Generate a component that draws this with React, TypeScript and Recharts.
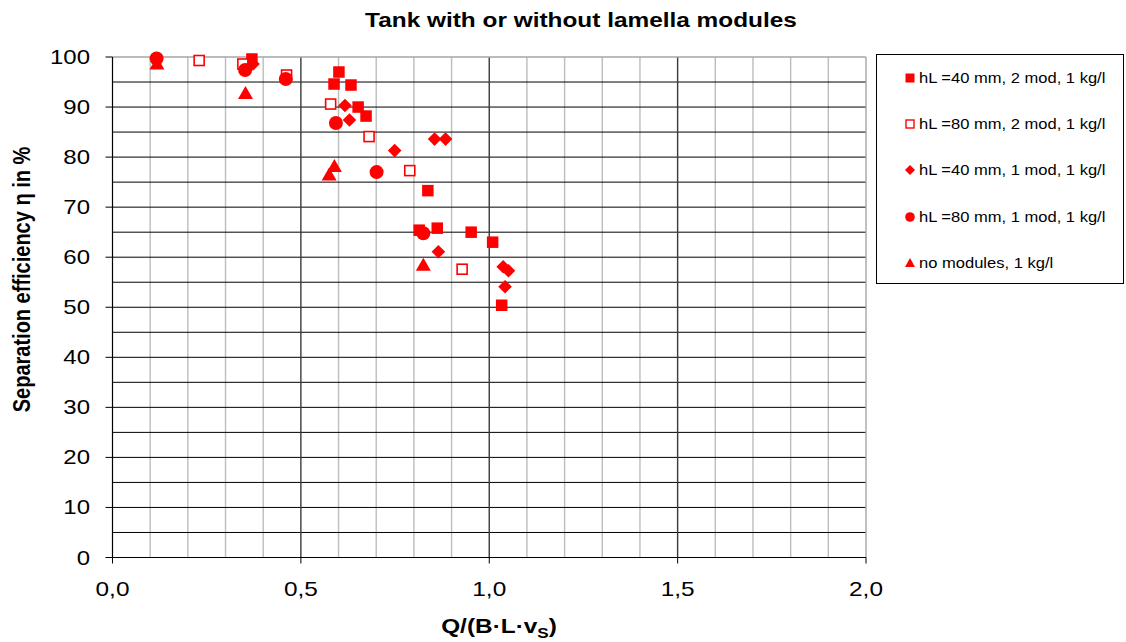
import { ReferenceLine, Scatter, ScatterChart, XAxis, YAxis } from 'recharts';

const RED = '#ff0000';
const FONT = '"Liberation Sans", Arial, sans-serif';

// hL = 40 mm, 2 modules
const sq40X = [0.370, 0.601, 0.588, 0.633, 0.652, 0.673, 0.837, 0.814, 0.862, 0.952, 1.009, 1.033];
const sq40Y = [99.6, 97.0, 94.6, 94.4, 90.0, 88.2, 73.3, 65.4, 65.8, 65.0, 63.0, 50.4];
// hL = 80 mm, 2 modules
const sq80X = [0.230, 0.346, 0.462, 0.579, 0.681, 0.789, 0.928];
const sq80Y = [99.3, 98.6, 96.4, 90.6, 84.1, 77.3, 57.6];
// hL = 40 mm, 1 module
const di40X = [0.373, 0.617, 0.629, 0.749, 0.855, 0.884, 0.865, 1.037, 1.051, 1.042];
const di40Y = [98.6, 90.3, 87.4, 81.3, 83.6, 83.6, 61.1, 58.1, 57.3, 54.1];
// hL = 80 mm, 1 module
const ci80X = [0.117, 0.352, 0.460, 0.593, 0.701, 0.825];
const ci80Y = [99.7, 97.4, 95.6, 86.8, 77.0, 64.8];
// no modules
const triX = [0.118, 0.353, 0.575, 0.589, 0.825];
const triY = [98.6, 92.7, 76.4, 78.1, 58.4];

const xTicks = [0, 0.5, 1, 1.5, 2];
const yTicks = [0, 10, 20, 30, 40, 50, 60, 70, 80, 90, 100];
const xMinor = [0.1, 0.2, 0.3, 0.4, 0.6, 0.7, 0.8, 0.9, 1.1, 1.2, 1.3, 1.4, 1.6, 1.7, 1.8, 1.9];
const xMajor = [0.5, 1, 1.5];
const yLines = [5, 10, 15, 20, 25, 30, 35, 40, 45, 50, 55, 60, 65, 70, 75, 80, 85, 90, 95];

const legendNames = [
  'hL =40 mm, 2 mod, 1 kg/l',
  'hL =80 mm, 2 mod, 1 kg/l',
  'hL =40 mm, 1 mod, 1 kg/l',
  'hL =80 mm, 1 mod, 1 kg/l',
  'no modules, 1 kg/l',
];

const zip = (xs: number[], ys: number[]) => xs.map((x, i) => ({ x, y: ys[i] }));

const Square = ({ cx, cy }: any) => <rect x={cx - 5.75} y={cy - 5.75} width={11.5} height={11.5} fill={RED} />;
const OpenSquare = ({ cx, cy }: any) => (
  <rect x={cx - 5} y={cy - 5} width={10} height={10} fill="#fff" stroke={RED} strokeWidth={1.6} />
);
const Diamond = ({ cx, cy }: any) => (
  <polygon points={`${cx},${cy - 6.8} ${cx + 6.8},${cy} ${cx},${cy + 6.8} ${cx - 6.8},${cy}`} fill={RED} />
);
const Dot = ({ cx, cy }: any) => <circle cx={cx} cy={cy} r={7} fill={RED} />;
const Triangle = ({ cx, cy }: any) => (
  <polygon points={`${cx},${cy - 7.5} ${cx + 7.5},${cy + 5.5} ${cx - 7.5},${cy + 5.5}`} fill={RED} />
);

const XTick = ({ x, y, payload }: any) => (
  <g transform={`translate(${x},${y})`}>
    <text transform="scale(1.22,1)" textAnchor="middle" dy={14.2} fontSize={20} fontFamily={FONT} fill="#000">
      {payload.value.toFixed(1).replace('.', ',')}
    </text>
  </g>
);

const YTick = ({ x, y, payload }: any) => (
  <g transform={`translate(${x},${y})`}>
    <text transform="scale(1.2,1)" textAnchor="end" dy={7} fontSize={20} fontFamily={FONT} fill="#000">
      {payload.value}
    </text>
  </g>
);

function LegendMark({ i }: { i: number }) {
  const c = 6;
  return (
    <svg width={12} height={12} style={{ display: 'block' }}>
      {i === 0 && <rect x={1.5} y={1.5} width={9} height={9} fill={RED} />}
      {i === 1 && <rect x={2} y={2} width={8} height={8} fill="#fff" stroke={RED} strokeWidth={1.4} />}
      {i === 2 && <polygon points={`${c},1 ${c + 5},${c} ${c},11 ${c - 5},${c}`} fill={RED} />}
      {i === 3 && <circle cx={c} cy={c} r={4.8} fill={RED} />}
      {i === 4 && <polygon points={`${c},1 ${c + 5},10 ${c - 5},10`} fill={RED} />}
    </svg>
  );
}

export default function App() {
  return (
    <div style={{ position: 'relative', width: 1126, height: 642, fontFamily: FONT, background: '#fff' }}>
      <style>{'body{margin:0}'}</style>
      <svg width={1126} height={40} style={{ position: 'absolute', left: 0, top: 0 }}>
        <g transform="translate(581,26.7)">
          <text transform="scale(1.22,1)" textAnchor="middle" fontSize={20} fontWeight="bold" fontFamily={FONT} fill="#000">
            Tank with or without lamella modules
          </text>
        </g>
      </svg>
      <ScatterChart width={1126} height={642} margin={{ top: 57, right: 260, bottom: 0, left: 0 }}>
        <XAxis
          type="number"
          dataKey="x"
          domain={[0, 2]}
          ticks={xTicks}
          height={84.5}
          tickSize={6}
          tickMargin={18}
          axisLine={{ stroke: '#000', strokeWidth: 1.2 }}
          tickLine={{ stroke: '#000' }}
          tick={<XTick />}
          label={{
            content: () => (
              <g transform="translate(499,633)">
                <text transform="scale(1.22,1)" textAnchor="middle" fontSize={20} fontWeight="bold" fontFamily={FONT} fill="#000">
                  Q/(B·L·v<tspan fontSize={14} dy={5}>S</tspan><tspan dy={-5}>)</tspan>
                </text>
              </g>
            ),
          }}
        />
        <YAxis
          type="number"
          dataKey="y"
          domain={[0, 100]}
          ticks={yTicks}
          width={112.5}
          tickSize={7}
          tickMargin={15.5}
          axisLine={{ stroke: '#000', strokeWidth: 1.2 }}
          tickLine={{ stroke: '#000' }}
          tick={<YTick />}
          label={{
            content: () => (
              <g transform="translate(30,279.5) rotate(-90) scale(1,1.2)">
                <text textAnchor="middle" fontSize={20} fontWeight="bold" fontFamily={FONT} fill="#000">
                  Separation efficiency η in %
                </text>
              </g>
            ),
          }}
        />
        {xMinor.map((v) => <ReferenceLine key={'xm' + v} x={v} stroke="#bdbdbd" strokeWidth={1.4} />)}
        {yLines.map((v) => <ReferenceLine key={'y' + v} y={v} stroke="#000" strokeWidth={1} />)}
        {xMajor.map((v) => <ReferenceLine key={'xM' + v} x={v} stroke="#3a3a3a" strokeWidth={1.4} />)}
        <ReferenceLine y={100} stroke="#a6a6a6" strokeWidth={1.4} />
        <ReferenceLine x={2} stroke="#a6a6a6" strokeWidth={1.4} />
        <Scatter name={legendNames[0]} data={zip(sq40X, sq40Y)} shape={Square} isAnimationActive={false} />
        <Scatter name={legendNames[1]} data={zip(sq80X, sq80Y)} shape={OpenSquare} isAnimationActive={false} />
        <Scatter name={legendNames[2]} data={zip(di40X, di40Y)} shape={Diamond} isAnimationActive={false} />
        <Scatter name={legendNames[3]} data={zip(ci80X, ci80Y)} shape={Dot} isAnimationActive={false} />
        <Scatter name={legendNames[4]} data={zip(triX, triY)} shape={Triangle} isAnimationActive={false} />
      </ScatterChart>
      <div
        style={{
          position: 'absolute',
          left: 876,
          top: 54,
          width: 248,
          height: 230,
          border: '1px solid #000',
          boxSizing: 'border-box',
        }}
      >
        {legendNames.map((n, i) => (
          <div
            key={n}
            style={{ position: 'absolute', left: 27, top: 17 + i * 46.2, height: 12, display: 'flex', alignItems: 'center' }}
          >
            <LegendMark i={i} />
            <span
              style={{
                marginLeft: 3,
                fontSize: 14.5,
                lineHeight: '12px',
                whiteSpace: 'nowrap',
                display: 'inline-block',
                transform: 'scaleX(1.14)',
                transformOrigin: 'left center',
              }}
            >
              {n}
            </span>
          </div>
        ))}
      </div>
    </div>
  );
}
